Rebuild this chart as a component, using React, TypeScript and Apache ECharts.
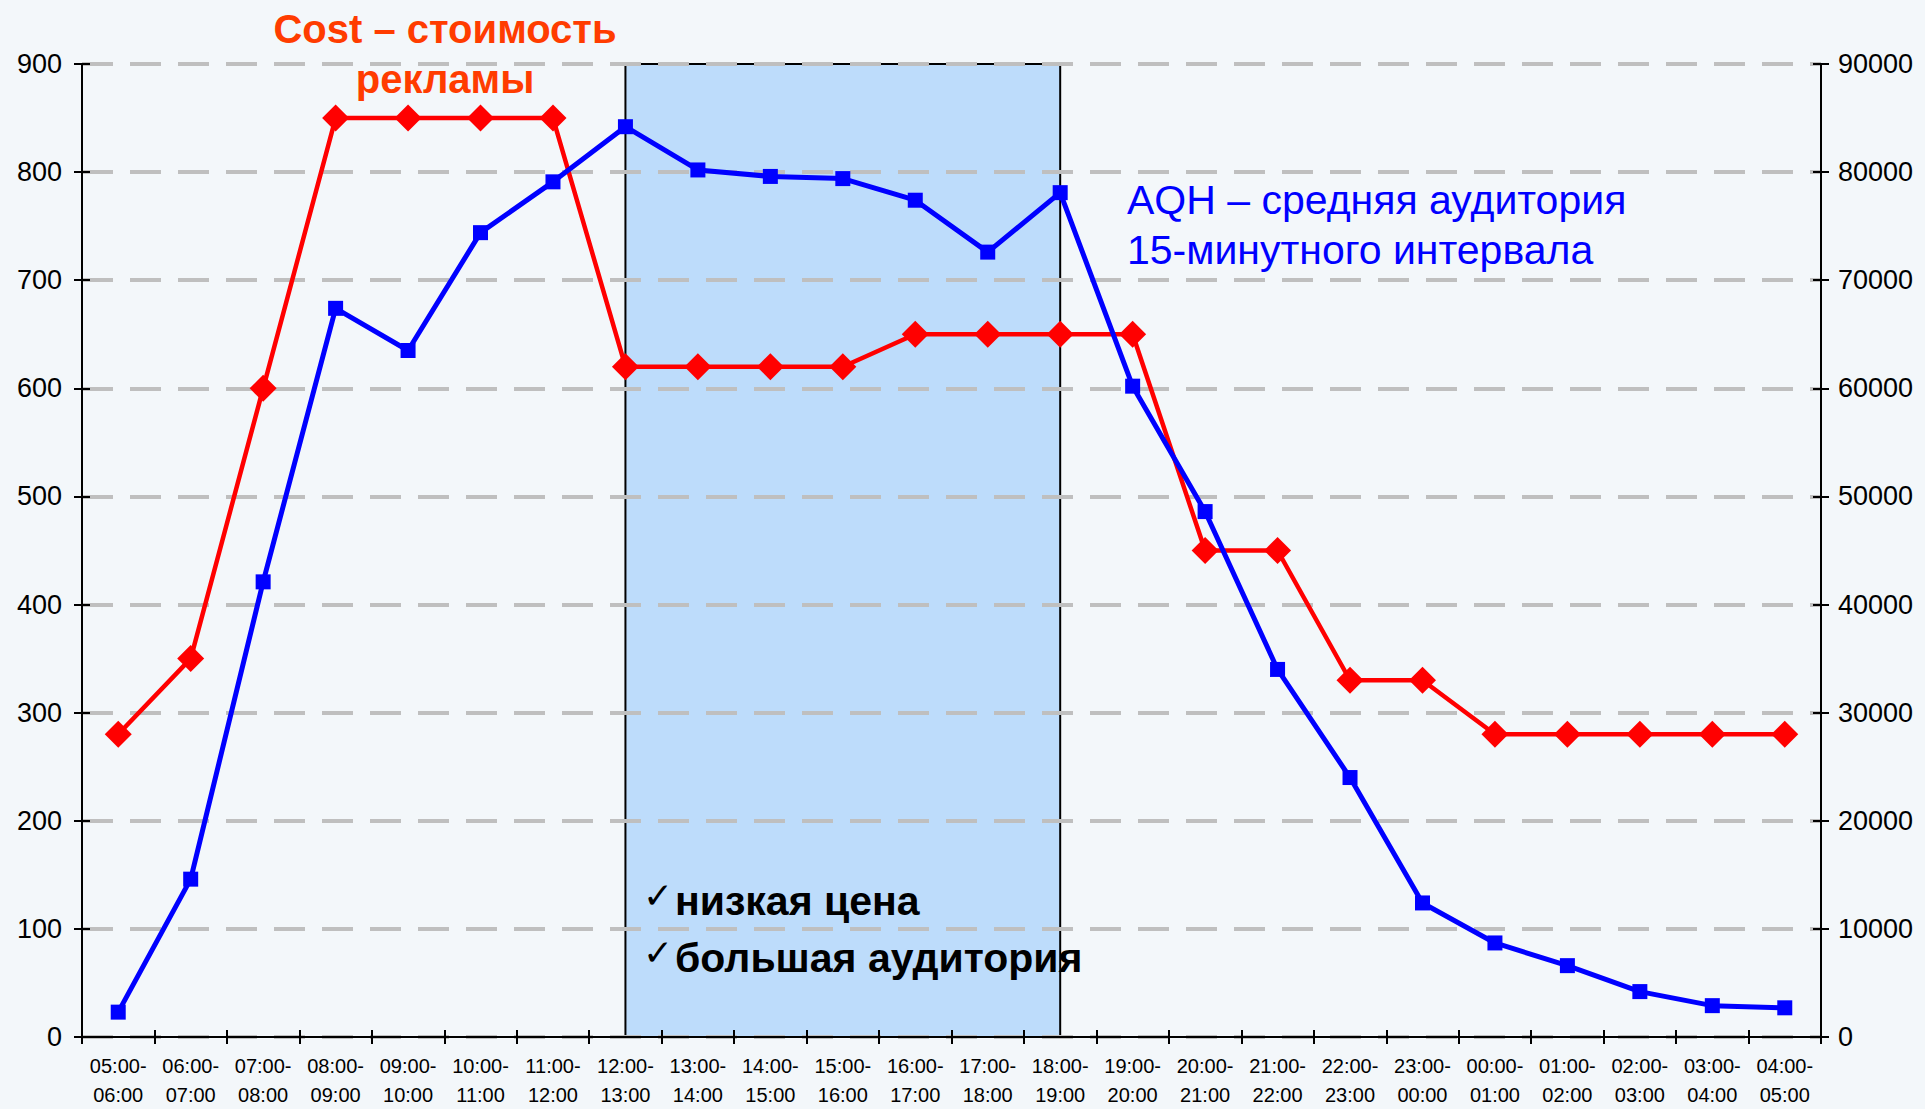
import React, { useEffect, useRef } from "react";
import * as echarts from "echarts";

const categories = [
  "05:00-\n06:00", "06:00-\n07:00", "07:00-\n08:00", "08:00-\n09:00", "09:00-\n10:00", "10:00-\n11:00",
  "11:00-\n12:00", "12:00-\n13:00", "13:00-\n14:00", "14:00-\n15:00", "15:00-\n16:00", "16:00-\n17:00",
  "17:00-\n18:00", "18:00-\n19:00", "19:00-\n20:00", "20:00-\n21:00", "21:00-\n22:00", "22:00-\n23:00",
  "23:00-\n00:00", "00:00-\n01:00", "01:00-\n02:00", "02:00-\n03:00", "03:00-\n04:00", "04:00-\n05:00",
];

const costValues = [280, 350, 600, 850, 850, 850, 850, 620, 620, 620, 620, 650, 650, 650, 650, 450, 450, 330, 330, 280, 280, 280, 280, 280];
const aqhValues = [2300, 14600, 42100, 67400, 63500, 74400, 79100, 84200, 80200, 79600, 79400, 77400, 72600, 78100, 60200, 48600, 34000, 24000, 12400, 8700, 6600, 4200, 2900, 2700];

const highlightFrom = "12:00-\n13:00";
const highlightTo = "18:00-\n19:00";

const leftAxis = { min: 0, max: 900, interval: 100 };
const rightAxis = { min: 0, max: 90000, interval: 10000 };

const costTitle = "Cost – стоимость\nрекламы";
const aqhTitle = "AQH – средняя аудитория\n15-минутного интервала";
const bullets = ["низкая цена", "большая аудитория"];

const FONT = "'Liberation Sans', Arial, Helvetica, sans-serif";

export default function App() {
  const ref = useRef<HTMLDivElement>(null);
  useEffect(() => {
    if (!ref.current) return;
    const chart = echarts.init(ref.current, null, { renderer: "svg" });
    const axisLineStyle = { color: "#000", width: 2 };
    const plain = (v: number) => String(v);
    const option: any = {
      animation: false,
      backgroundColor: "#f3f7fa",
      grid: { left: 82, right: 104, top: 64, bottom: 69, containLabel: false },
      xAxis: [
        {
          type: "category",
          data: categories,
          boundaryGap: true,
          position: "bottom",
          axisLine: { show: true, onZero: false, lineStyle: axisLineStyle },
          axisTick: { show: true, length: 7, lineStyle: axisLineStyle },
          axisLabel: {
            interval: 0,
            color: "#000",
            fontFamily: FONT,
            fontSize: 20,
            lineHeight: 29,
            margin: 14,
          },
          splitLine: { show: false },
        },
        {
          type: "category",
          data: categories,
          boundaryGap: true,
          position: "bottom",
          axisLine: { show: false },
          axisTick: { show: true, inside: true, length: 7, lineStyle: axisLineStyle },
          axisLabel: { show: false },
          splitLine: { show: false },
        },
      ],
      yAxis: [
        {
          type: "value",
          position: "left",
          ...leftAxis,
          axisLine: { show: true, onZero: false, lineStyle: axisLineStyle },
          axisTick: { show: true, length: 8, lineStyle: axisLineStyle },
          axisLabel: { color: "#000", fontFamily: FONT, fontSize: 27, margin: 20, formatter: plain },
          splitLine: { show: true, lineStyle: { color: "#bfbfbf", width: 4, type: [31, 17] } },
        },
        {
          type: "value",
          position: "right",
          ...rightAxis,
          axisLine: { show: true, onZero: false, lineStyle: axisLineStyle },
          axisTick: { show: true, length: 8, lineStyle: axisLineStyle },
          axisLabel: { color: "#000", fontFamily: FONT, fontSize: 27, margin: 17, formatter: plain },
          splitLine: { show: false },
        },
        {
          type: "value",
          position: "left",
          ...leftAxis,
          axisLine: { show: false },
          axisTick: { show: true, inside: true, length: 8, lineStyle: axisLineStyle },
          axisLabel: { show: false },
          splitLine: { show: false },
        },
        {
          type: "value",
          position: "right",
          ...rightAxis,
          axisLine: { show: false },
          axisTick: { show: true, inside: true, length: 8, lineStyle: axisLineStyle },
          axisLabel: { show: false },
          splitLine: { show: false },
        },
      ],
      series: [
        {
          name: "Cost",
          type: "line",
          xAxisIndex: 0,
          yAxisIndex: 0,
          data: costValues,
          symbol: "diamond",
          symbolSize: 27,
          lineStyle: { color: "#ff0000", width: 4.5 },
          itemStyle: { color: "#ff0000" },
          markArea: {
            silent: true,
            z: -1,
            itemStyle: { color: "#bddcfb", borderColor: "#000", borderWidth: 2 },
            data: [[{ xAxis: highlightFrom, yAxis: leftAxis.max }, { xAxis: highlightTo, yAxis: leftAxis.min }]],
          },
        },
        {
          name: "AQH",
          type: "line",
          xAxisIndex: 0,
          yAxisIndex: 1,
          data: aqhValues,
          symbol: "rect",
          symbolSize: 15,
          lineStyle: { color: "#0000ff", width: 5 },
          itemStyle: { color: "#0000ff" },
        },
      ],
      graphic: [
        {
          type: "text",
          x: 445,
          y: 54,
          z: 10,
          style: {
            text: costTitle,
            font: `bold 40px ${FONT}`,
            fill: "#ff3c00",
            textAlign: "center",
            textVerticalAlign: "middle",
            lineHeight: 50,
          },
        },
        {
          type: "text",
          x: 1127,
          y: 225,
          z: 10,
          style: {
            text: aqhTitle,
            font: `41px ${FONT}`,
            fill: "#0000ff",
            textAlign: "left",
            textVerticalAlign: "middle",
            lineHeight: 50,
          },
        },
        {
          type: "text",
          x: 643,
          y: 895,
          z: 10,
          style: { text: "✓", font: `36px 'DejaVu Sans', sans-serif`, fill: "#000", textVerticalAlign: "middle" },
        },
        {
          type: "text",
          x: 643,
          y: 952,
          z: 10,
          style: { text: "✓", font: `36px 'DejaVu Sans', sans-serif`, fill: "#000", textVerticalAlign: "middle" },
        },
        {
          type: "text",
          x: 675,
          y: 901,
          z: 10,
          style: { text: bullets[0], font: `bold 41px ${FONT}`, fill: "#000", textVerticalAlign: "middle" },
        },
        {
          type: "text",
          x: 675,
          y: 958,
          z: 10,
          style: { text: bullets[1], font: `bold 41px ${FONT}`, fill: "#000", textVerticalAlign: "middle" },
        },
      ],
    };
    chart.setOption(option);
    return () => chart.dispose();
  }, []);
  return (
    <div
      ref={ref}
      style={{ position: "fixed", left: 0, top: 0, width: 1925, height: 1109 }}
    />
  );
}
